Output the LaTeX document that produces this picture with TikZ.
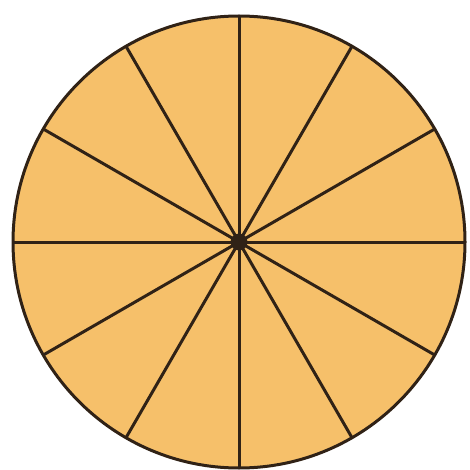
\documentclass[tikz,border=0pt]{standalone}
\definecolor{fillorange}{RGB}{246,192,106}
\definecolor{linebrown}{RGB}{48,34,22}
\begin{document}
\begin{tikzpicture}[x=1pt,y=-1pt,
  spoke/.style={draw=linebrown,line width=3pt},
  rim/.style={draw=linebrown,line width=3pt,fill=fillorange}]
\useasboundingbox (0,0) rectangle (469,470);
\coordinate (c) at (239,242);
\draw[rim] (c) circle (226);
\foreach \a in {0,30,...,150}{
  \draw[spoke] (c) ++(\a:226) -- ++(\a+180:452);
}
\fill[linebrown] (c) circle (8.5);
\end{tikzpicture}
\end{document}
